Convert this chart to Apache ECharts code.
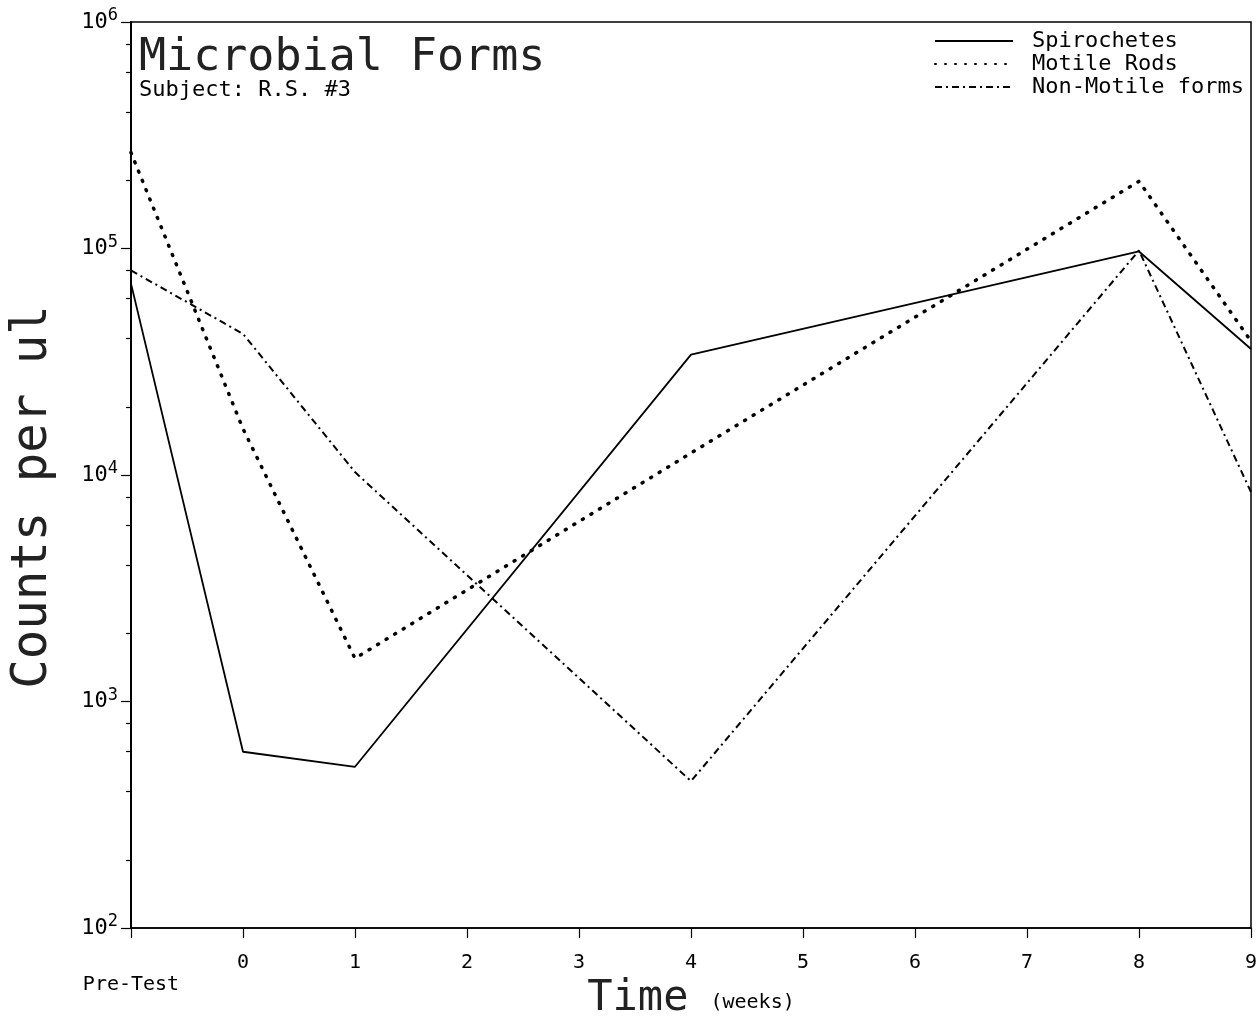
<!DOCTYPE html>
<html>
<head>
<meta charset="utf-8">
<title>Microbial Forms</title>
<script src="https://cdn.jsdelivr.net/npm/echarts@6/dist/echarts.min.js"></script>
<style>
  html, body { margin: 0; padding: 0; background: #fff; }
  #chart { width: 1256px; height: 1023px; }
</style>
</head>
<body>
<div id="chart"></div>
<script>
// Sampling times in weeks; -1 is the pre-test sample
const weeks = [-1, 0, 1, 4, 8, 9];

// Counts per microlitre for each microbial form
const spirochetes = [70000, 600, 515, 34000, 97000, 36000];
const motileRods = [265000, 16000, 1550, 12500, 198000, 39000];
const nonMotileForms = [80000, 42000, 10300, 445, 98000, 8400];

const seriesNames = ['Spirochetes', 'Motile Rods', 'Non-Motile forms'];

// Decade ticks and the 2-4-6-8 minor ticks of the log axis
const decadeTicks = [100, 1000, 10000, 100000, 1000000];
const minorTicks = [];
decadeTicks.slice(0, -1).forEach(d => [2, 4, 6, 8].forEach(m => minorTicks.push(d * m)));

const FONT = '"DejaVu Sans Mono", "Liberation Mono", monospace';
const INK = '#000';

function pairs(values) {
  return weeks.map((w, i) => [w, values[i]]);
}

const chart = echarts.init(document.getElementById('chart'), null, { renderer: 'canvas' });

chart.setOption({
  animation: false,
  backgroundColor: '#fff',
  title: {
    text: 'Microbial Forms',
    subtext: 'Subject: R.S. #3',
    left: 139,
    top: 36,
    padding: 0,
    itemGap: -2,
    textStyle: { fontFamily: FONT, fontSize: 45, fontWeight: 'normal', color: '#222' },
    subtextStyle: { fontFamily: FONT, fontSize: 22, color: INK }
  },
  legend: {
    orient: 'vertical',
    left: 934,
    top: 30,
    padding: 0,
    itemGap: 1,
    itemWidth: 78,
    itemHeight: 14,
    align: 'left',
    data: seriesNames,
    itemStyle: { color: 'transparent', borderWidth: 0, opacity: 0 },
    textStyle: { fontFamily: FONT, fontSize: 22, color: INK, padding: [0, 0, 0, 14] }
  },
  grid: {
    left: 131,
    right: 5,
    top: 22,
    bottom: 95,
    show: true,
    borderColor: INK,
    borderWidth: 1.5,
    backgroundColor: 'transparent',
    outerBoundsMode: 'none'
  },
  xAxis: {
    type: 'value',
    min: -1,
    max: 9,
    interval: 1,
    name: '{big|Time}{small|(weeks)}',
    nameLocation: 'middle',
    nameGap: 50,
    nameMoveOverlap: false,
    nameTextStyle: {
      rich: {
        big: { fontFamily: FONT, fontSize: 42, color: '#222' },
        small: { fontFamily: FONT, fontSize: 20, color: INK, padding: [8, 0, 0, 22] }
      }
    },
    axisLine: { onZero: false, lineStyle: { color: INK, width: 1.5 } },
    axisTick: { inside: false, length: 10, lineStyle: { color: INK, width: 1.2 } },
    axisLabel: {
      margin: 24,
      showMinLabel: true,
      showMaxLabel: true,
      hideOverlap: false,
      fontFamily: FONT,
      fontSize: 20,
      lineHeight: 22,
      color: INK,
      formatter: v => (v === -1 ? '\nPre-Test' : String(v))
    },
    splitLine: { show: false }
  },
  yAxis: [
    {
      type: 'log',
      logBase: 10,
      min: 100,
      max: 1000000,
      name: 'Counts per ul',
      nameLocation: 'middle',
      nameGap: 73,
      nameMoveOverlap: false,
      nameTextStyle: { fontFamily: FONT, fontSize: 49, color: '#222', padding: [0, 44, 0, 0] },
      axisLine: { show: true, onZero: false, lineStyle: { color: INK, width: 2 } },
      axisTick: { show: true, inside: false, length: 10, customValues: decadeTicks, lineStyle: { color: INK, width: 1.2 } },
      axisLabel: {
        margin: 13,
        showMinLabel: true,
        showMaxLabel: true,
        customValues: decadeTicks,
        formatter: v => '{b|10}{e|' + Math.round(Math.log10(v)) + '}',
        rich: {
          b: { fontFamily: FONT, fontSize: 22, color: INK },
          e: { fontFamily: FONT, fontSize: 17, color: INK, padding: [0, 0, 12, 0] }
        }
      },
      splitLine: { show: false }
    },
    {
      type: 'log',
      logBase: 10,
      min: 100,
      max: 1000000,
      position: 'left',
      offset: 0,
      axisLine: { show: false, onZero: false },
      axisTick: { show: true, inside: false, length: 5, customValues: minorTicks, lineStyle: { color: INK, width: 1.2 } },
      axisLabel: { show: false },
      splitLine: { show: false }
    }
  ],
  series: [
    {
      name: seriesNames[0],
      type: 'line',
      data: pairs(spirochetes),
      symbol: 'none',
      lineStyle: { color: INK, width: 1.8, type: 'solid' },
      itemStyle: { color: INK }
    },
    {
      name: seriesNames[1],
      type: 'line',
      data: pairs(motileRods),
      symbol: 'none',
      lineStyle: { color: INK, width: 3.5, type: [1, 9], cap: 'round' },
      itemStyle: { color: INK }
    },
    {
      name: seriesNames[2],
      type: 'line',
      data: pairs(nonMotileForms),
      symbol: 'none',
      lineStyle: { color: INK, width: 2, type: [7, 4, 2, 4] },
      itemStyle: { color: INK }
    }
  ]
});
</script>
</body>
</html>
